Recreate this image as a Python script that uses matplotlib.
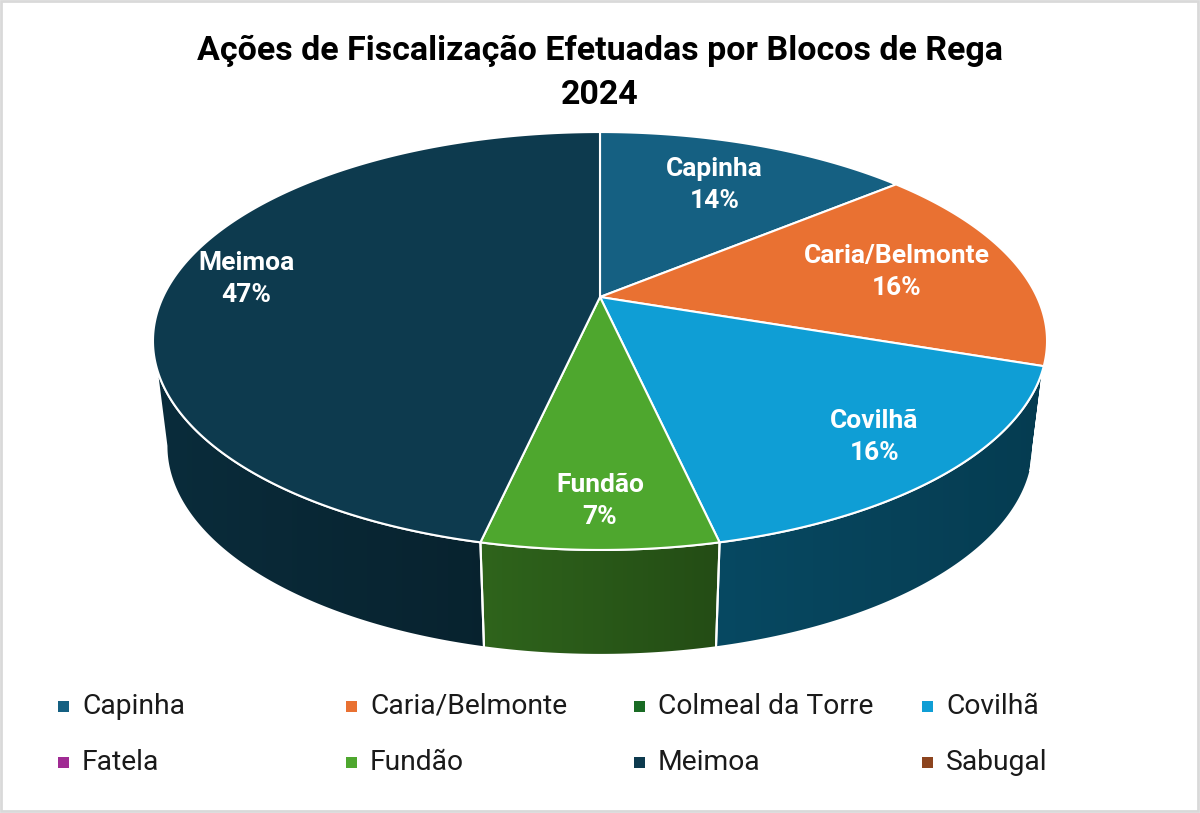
import numpy as np
import matplotlib.pyplot as plt
from matplotlib.patches import Polygon, Rectangle
from matplotlib.colors import to_rgb

# ---------------------------------
# Data
# ---------------------------------
blocos = ["Capinha", "Caria/Belmonte", "Colmeal da Torre", "Covilhã",
          "Fatela", "Fundão", "Meimoa", "Sabugal"]
acoes = [6, 7, 0, 7, 0, 3, 20, 0]
cores = ["#156082", "#E97132", "#196B24", "#0F9ED5",
         "#A02B93", "#4EA72E", "#0D3A4E", "#8C441E"]

titulo = "Ações de Fiscalização Efetuadas por Blocos de Rega\n2024"

# ---------------------------------
# 3D pie geometry (screen pixels)
# ---------------------------------
CX, CY = 600, 297        # pie centre
SX, SY = 437, 199.7      # radii
K = 0.2105               # perspective factor
DEPTH = 105              # thickness
SHRINK = 0.97            # base appears a bit narrower

# side wall is visible between the two silhouette points
VIS_A = np.pi - np.arccos(K)
VIS_B = np.pi + np.arccos(K)

# label radius (fraction of the circle) per block
raio_rotulo = {"Capinha": 0.70, "Caria/Belmonte": 0.71, "Covilhã": 0.82,
               "Fundão": 0.84, "Meimoa": 0.83}


def proj(theta, r=1.0, base=False):
    x = r * np.sin(theta)
    y = r * np.cos(theta)
    w = 1 + K * y
    X = CX + SX * x / w * (SHRINK if base else 1.0)
    Y = CY - SY * y / w + (DEPTH if base else 0.0)
    return X, Y


def side_factor(X):
    nx = (X - CX) / 447.0
    return np.interp(nx, [-1, -0.27, 0.26, 1], [0.76, 0.60, 0.46, 0.38])


plt.rcParams["font.family"] = ["Roboto", "DejaVu Sans"]

fig = plt.figure(figsize=(12, 8.13), dpi=100)
ax = fig.add_axes([0, 0, 1, 1])
ax.set_xlim(0, 1200)
ax.set_ylim(813, 0)
ax.axis("off")

total = sum(acoes)
frac = np.array(acoes) / total
ends = np.cumsum(frac) * 2 * np.pi
starts = ends - frac * 2 * np.pi

# ---------------------------------
# Side walls (far first)
# ---------------------------------
sides = []
for i, nome in enumerate(blocos):
    if acoes[i] == 0:
        continue
    a = max(starts[i], VIS_A)
    b = min(ends[i], VIS_B)
    if b <= a:
        continue
    sides.append((abs((a + b) / 2 - np.pi), i, a, b))
sides.sort(reverse=True)

for _, i, a, b in sides:
    th = np.linspace(a, b, 120)
    xt, yt = proj(th)
    xb, yb = proj(th[::-1], base=True)
    pts = np.column_stack([np.r_[xt, xb], np.r_[yt, yb]])
    poly = Polygon(pts, closed=True, facecolor="none", edgecolor="none")
    ax.add_patch(poly)
    x0, x1 = pts[:, 0].min(), pts[:, 0].max()
    y0, y1 = pts[:, 1].min(), pts[:, 1].max()
    cols = np.linspace(x0, x1, 200)
    rgb = np.array(to_rgb(cores[i]))
    img = side_factor(cols)[:, None] * rgb[None, :]
    img = np.repeat(img[None, :, :], 2, axis=0)
    im = ax.imshow(img, extent=(x0, x1, y1, y0), aspect="auto",
                   interpolation="bilinear", zorder=1)
    im.set_clip_path(poly)
    ax.add_patch(Polygon(pts, closed=True, facecolor="none",
                         edgecolor="white", lw=1.5, zorder=2))

# ---------------------------------
# Top surfaces + labels
# ---------------------------------
for i, nome in enumerate(blocos):
    if acoes[i] == 0:
        continue
    th = np.linspace(starts[i], ends[i], 200)
    xt, yt = proj(th)
    pts = np.column_stack([np.r_[CX, xt], np.r_[CY, yt]])
    ax.add_patch(Polygon(pts, closed=True, facecolor=cores[i],
                         edgecolor="white", lw=1.5, zorder=3,
                         joinstyle="round"))
    mid = (starts[i] + ends[i]) / 2
    lx, ly = proj(mid, r=raio_rotulo.get(nome, 0.75))
    pct = round(acoes[i] / total * 100)
    ax.text(lx, ly, f"{nome}\n{pct}%", color="white", fontsize=19,
            fontweight="bold", ha="center", va="center",
            linespacing=1.42, zorder=4)

# ---------------------------------
# Title
# ---------------------------------
ax.text(600, 73, titulo, ha="center", va="center", fontsize=24.5,
        fontweight="bold", color="black", linespacing=1.48)

# ---------------------------------
# Legend
# ---------------------------------
col_x = [58, 346, 634, 922]
row_y = [706, 762]
for i, nome in enumerate(blocos):
    x = col_x[i % 4]
    y = row_y[i // 4]
    ax.add_patch(Rectangle((x, y - 5), 11, 11, facecolor=cores[i],
                           edgecolor="none"))
    ax.text(x + 24, y, nome, ha="left", va="center", fontsize=20.3,
            color="#1a1a1a")

ax.add_patch(Rectangle((1, 1), 1197, 810, facecolor="none",
                       edgecolor="#d9d9d9", lw=2))

fig.savefig("out.png", dpi=100)
